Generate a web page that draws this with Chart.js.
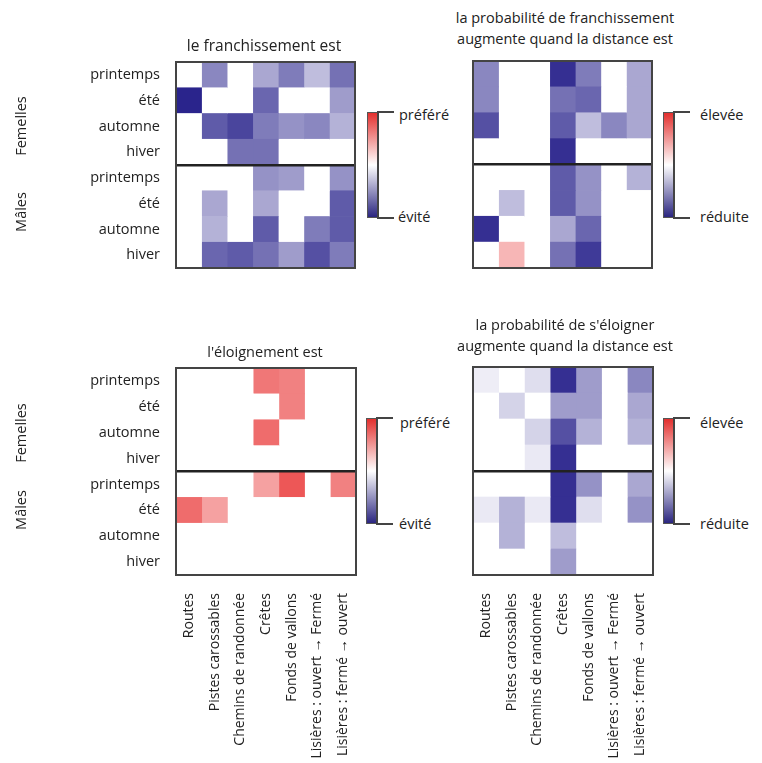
<!DOCTYPE html>
<html>
<head>
<meta charset="utf-8">
<script src="https://cdn.jsdelivr.net/npm/chart.js@4.4.0/dist/chart.umd.min.js"></script>
<style>
  body { margin: 0; background: #fff; width: 762px; height: 763px; position: relative; overflow: hidden;
         font-family: "Open Sans", sans-serif; color: #222; }
  canvas { position: absolute; }
  .t { position: absolute; font-size: 14.5px; white-space: nowrap; line-height: 21px; text-align: center; transform: translateX(-50%); }
  .g { position: absolute; font-size: 14.5px; white-space: nowrap; transform: translate(-50%, -50%) rotate(-90deg); }
  .cb { position: absolute; width: 9px; height: 104px; border: 1px solid #555;
        background: linear-gradient(#e3302e, #ffffff 50%, #2b2680); }
  .br { position: absolute; width: 15px; height: 104px; border: 2px solid #444; border-right: none; }
  .lab { position: absolute; font-size: 14.5px; white-space: nowrap; transform: translateY(-50%); }
</style>
</head>
<body>
<canvas id="c1" width="360" height="225" style="left:0;top:50px"></canvas>
<canvas id="c2" width="190" height="225" style="left:468px;top:50px"></canvas>
<canvas id="c3" width="360" height="408" style="left:0;top:355px"></canvas>
<canvas id="c4" width="190" height="408" style="left:468px;top:355px"></canvas>

<div class="t" style="left:264px;top:35px;font-size:15.5px">le franchissement est</div>
<div class="t" style="left:565px;top:7px">la probabilité de franchissement<br>augmente quand la distance est</div>
<div class="t" style="left:265px;top:341px">l'éloignement est</div>
<div class="t" style="left:565px;top:314px">la probabilité de s'éloigner<br>augmente quand la distance est</div>

<div class="g" style="left:20px;top:126px">Femelles</div>
<div class="g" style="left:20px;top:212px">Mâles</div>
<div class="g" style="left:20px;top:433px">Femelles</div>
<div class="g" style="left:20px;top:510px">Mâles</div>

<div class="cb" style="left:367px;top:112px"></div><div class="br" style="left:377px;top:111px"></div>
<div class="lab" style="left:399px;top:114px">préféré</div><div class="lab" style="left:398px;top:216px">évité</div>
<div class="cb" style="left:663px;top:112px"></div><div class="br" style="left:673px;top:111px"></div>
<div class="lab" style="left:700px;top:114px">élevée</div><div class="lab" style="left:700px;top:216px">réduite</div>
<div class="cb" style="left:366px;top:418px"></div><div class="br" style="left:376px;top:417px"></div>
<div class="lab" style="left:400px;top:422px">préféré</div><div class="lab" style="left:399px;top:523px">évité</div>
<div class="cb" style="left:663px;top:418px"></div><div class="br" style="left:673px;top:417px"></div>
<div class="lab" style="left:700px;top:422px">élevée</div><div class="lab" style="left:700px;top:523px">réduite</div>

<script>
// Row and column labels
const rows = ['printemps', 'été', 'automne', 'hiver', 'printemps', 'été', 'automne', 'hiver'];
const cols = ['Routes', 'Pistes carossables', 'Chemins de randonnée', 'Crêtes', 'Fonds de vallons',
              'Lisières : ouvert → Fermé', 'Lisières : fermé → ouvert'];

// Values: -1 = évité / réduite (blue), +1 = préféré / élevée (red)
const franchissement = [
  [0, -0.55, 0, -0.4, -0.6, -0.3, -0.65],
  [-1.0, 0, 0, -0.7, 0, 0, -0.45],
  [0, -0.75, -0.85, -0.6, -0.5, -0.55, -0.35],
  [0, 0, -0.65, -0.65, 0, 0, 0],
  [0, 0, 0, -0.5, -0.45, 0, -0.5],
  [0, -0.4, 0, -0.4, 0, 0, -0.75],
  [0, -0.35, 0, -0.75, 0, -0.6, -0.75],
  [0, -0.7, -0.75, -0.65, -0.45, -0.8, -0.6]
];
const probaFranchissement = [
  [-0.55, 0, 0, -0.95, -0.6, 0, -0.4],
  [-0.55, 0, 0, -0.65, -0.7, 0, -0.4],
  [-0.8, 0, 0, -0.75, -0.3, -0.55, -0.4],
  [0, 0, 0, -0.95, 0, 0, 0],
  [0, 0, 0, -0.75, -0.5, 0, -0.35],
  [0, -0.3, 0, -0.75, -0.5, 0, 0],
  [-0.95, 0, 0, -0.4, -0.7, 0, 0],
  [0, 0.35, 0, -0.65, -0.9, 0, 0]
];
const eloignement = [
  [0, 0, 0, 0.65, 0.6, 0, 0],
  [0, 0, 0, 0, 0.6, 0, 0],
  [0, 0, 0, 0.7, 0, 0, 0],
  [0, 0, 0, 0, 0, 0, 0],
  [0, 0, 0, 0.45, 0.8, 0, 0.6],
  [0.7, 0.45, 0, 0, 0, 0, 0],
  [0, 0, 0, 0, 0, 0, 0],
  [0, 0, 0, 0, 0, 0, 0]
];
const probaEloignement = [
  [-0.08, 0, -0.15, -0.95, -0.45, 0, -0.55],
  [0, -0.2, 0, -0.45, -0.45, 0, -0.4],
  [0, 0, -0.2, -0.8, -0.35, 0, -0.35],
  [0, 0, -0.1, -0.95, 0, 0, 0],
  [0, 0, 0, -0.95, -0.5, 0, -0.4],
  [-0.1, -0.35, -0.1, -0.95, -0.15, 0, -0.5],
  [0, -0.35, 0, -0.3, 0, 0, 0],
  [0, 0, 0, -0.45, 0, 0, 0]
];

// white -> navy for negative, white -> red for positive
function cellColor(v) {
  const end = v < 0 ? [42, 36, 140] : [232, 45, 45];
  const a = Math.min(Math.abs(v), 1);
  const c = end.map(e => Math.round(255 + (e - 255) * a));
  return `rgb(${c[0]},${c[1]},${c[2]})`;
}

// draws the dark frame round each heatmap
const framePlugin = {
  id: 'frame',
  afterDraw(chart) {
    const a = chart.chartArea, ctx = chart.ctx;
    ctx.save();
    ctx.strokeStyle = '#444';
    ctx.lineWidth = 2;
    ctx.strokeRect(a.left, a.top, a.right - a.left, a.bottom - a.top);
    ctx.restore();
  }
};

const font = { family: '"Open Sans", sans-serif', size: 14.5 };

function heatmap(id, values, showRows, showCols, padding) {
  const datasets = cols.map((c, j) => ({
    label: c,
    data: values.map(() => [j, j + 1]),
    backgroundColor: values.map(r => cellColor(r[j])),
    borderWidth: 0,
    grouped: false,
    barPercentage: 1,
    categoryPercentage: 1
  }));
  new Chart(document.getElementById(id), {
    type: 'bar',
    data: { labels: rows, datasets: datasets },
    plugins: [framePlugin],
    options: {
      indexAxis: 'y',
      responsive: false,
      animation: false,
      layout: { padding: padding },
      plugins: { legend: { display: false }, tooltip: { enabled: false } },
      scales: {
        x: {
          type: 'linear', min: 0, max: 7,
          display: showCols,
          grid: { display: false },
          border: { display: false },
          afterBuildTicks: s => { s.ticks = cols.map((c, i) => ({ value: i + 0.5 })); },
          afterFit: s => { s.height = showCols ? 188 : 0; s.paddingLeft = 0; s.paddingRight = 0; },
          ticks: {
            autoSkip: false, minRotation: 90, maxRotation: 90, padding: 10,
            color: '#222', font: { family: font.family, size: 14 },
            callback: (v, i) => cols[i]
          }
        },
        y: {
          type: 'category',
          offset: true,
          border: { display: false },
          grid: {
            offset: true, drawTicks: false, lineWidth: 2.5, z: 1,
            color: ctx => ctx.index === 4 ? '#222' : 'rgba(0,0,0,0)'
          },
          afterFit: s => { s.width = showRows ? 176 : 0; s.paddingTop = 0; s.paddingBottom = 0; },
          ticks: { display: showRows, padding: 16, color: '#222', font: font }
        }
      }
    }
  });
}

heatmap('c1', franchissement, true, false, { left: 0, top: 12, right: 5, bottom: 7 });
heatmap('c2', probaFranchissement, false, false, { left: 5, top: 11, right: 6, bottom: 7 });
heatmap('c3', eloignement, true, true, { left: 0, top: 13, right: 4, bottom: 0 });
heatmap('c4', probaEloignement, false, true, { left: 5, top: 12, right: 5, bottom: 0 });
</script>
</body>
</html>
